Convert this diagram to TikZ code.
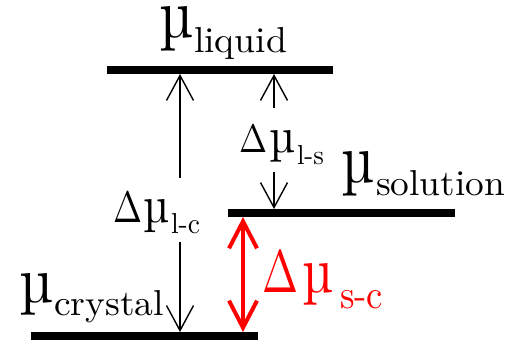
\documentclass[tikz,border=0pt]{standalone}
\usetikzlibrary{arrows.meta}
\definecolor{myred}{RGB}{255,0,0}
\newcommand{\fitbox}[3]{\resizebox{#1pt}{#2pt}{#3}}
\newcommand{\mymu}{µ}
\tikzset{
  bar/.style={line width=8pt},
  thinarrow/.style={line width=1.4pt,-{Straight Barb[length=25pt,width=27pt,line width=1.4pt]}},
  redarrow/.style={myred,line width=4pt,{Straight Barb[length=27pt,width=28pt]}-{Straight Barb[length=27pt,width=28pt]}},
  lab/.style={inner sep=0pt,outer sep=0pt,anchor=base west},
}
\begin{document}
\begin{tikzpicture}[x=1pt,y=-1pt]
\useasboundingbox (0,0) rectangle (505,342);
% bars
\coordinate (L1) at (107,70); \coordinate (L2) at (333,70);
\coordinate (S1) at (228,213); \coordinate (S2) at (455,213);
\coordinate (C1) at (31,336); \coordinate (C2) at (258,336);
\draw[bar] (L1) -- (L2);
\draw[bar] (S1) -- (S2);
\draw[bar] (C1) -- (C2);
% level labels
\node[lab] (mlq) at (159,38) {\fitbox{34}{31}{\mymu}};
\node[lab] (slq) at (194,53) {\fitbox{93}{25}{liquid}};
\node[lab] (mso) at (341,182) {\fitbox{33}{31}{\mymu}};
\node[lab] (sso) at (376,195) {\fitbox{129}{25}{solution}};
\node[lab] (mcr) at (19,302) {\fitbox{34}{29}{\mymu}};
\node[lab] (scr) at (54,315) {\fitbox{110}{25}{crystal}};
% delta labels
\node[lab] (dlc) at (113,222) {\fitbox{29}{30}{$\Delta$}};
\node[lab] (mlc) at (143,222) {\fitbox{26}{23}{\mymu}};
\node[lab] (slc) at (171,233) {\fitbox{29}{20}{l-c}};
\node[lab] (dls) at (239,152) {\fitbox{28}{27}{$\Delta$}};
\node[lab] (mls) at (269,152) {\fitbox{26}{22}{\mymu}};
\node[lab] (sls) at (297,164) {\fitbox{27}{19}{l-s}};
\begin{scope}[text=myred]
\node[lab] (dsc) at (262,292) {\fitbox{36}{41}{$\Delta$}};
\node[lab] (msc) at (302,292) {\fitbox{31}{29}{\mymu}};
\node[lab] (ssc) at (340,308) {\fitbox{43}{18}{s-c}};
\end{scope}
% arrows
\coordinate (a1) at (180,178); \coordinate (a1t) at (180,74);
\coordinate (a2) at (180,242); \coordinate (a2t) at (180,332);
\coordinate (b1) at (274,108); \coordinate (b1t) at (274,74);
\coordinate (b2) at (274,172); \coordinate (b2t) at (274,209);
\coordinate (r1) at (243,217); \coordinate (r2) at (243,332);
\draw[thinarrow] (a1) -- (a1t);
\draw[thinarrow] (a2) -- (a2t);
\draw[thinarrow] (b1) -- (b1t);
\draw[thinarrow] (b2) -- (b2t);
\draw[redarrow] (r1) -- (r2);
\end{tikzpicture}
\end{document}
